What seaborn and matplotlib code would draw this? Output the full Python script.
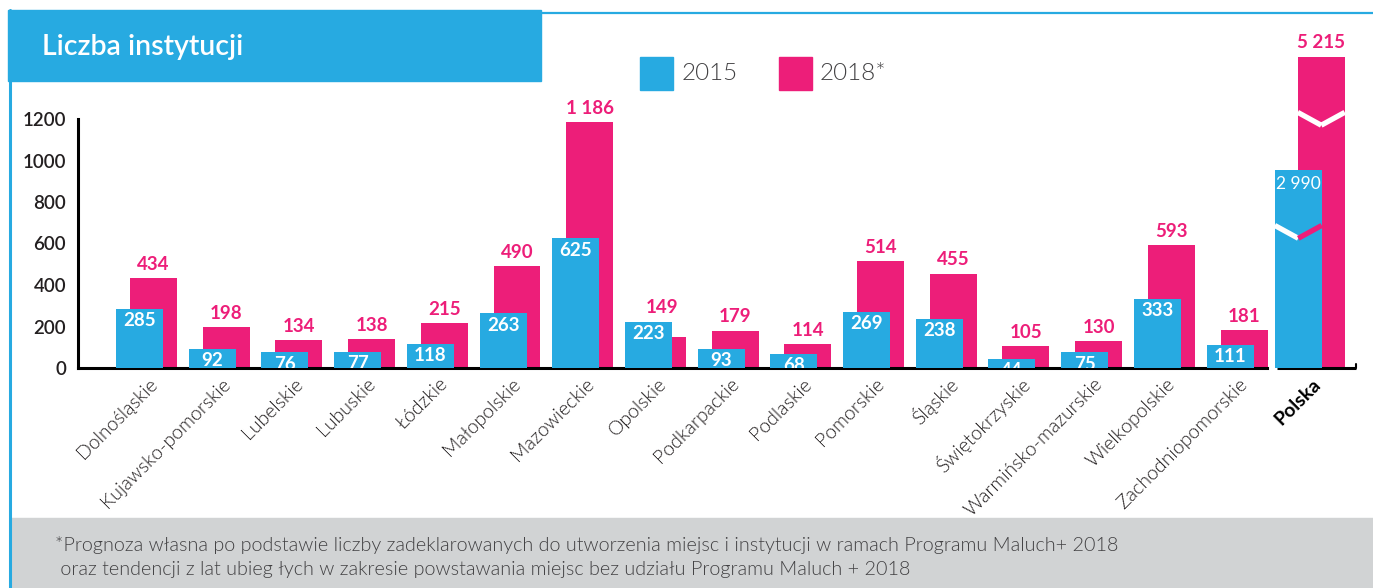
import numpy as np
import pandas as pd
import seaborn as sns
import matplotlib.pyplot as plt
import matplotlib.transforms as mtransforms
from matplotlib.patches import Rectangle
from matplotlib.lines import Line2D

# Data
regions = ['Dolnośląskie', 'Kujawsko-pomorskie', 'Lubelskie', 'Lubuskie', 'Łódzkie',
           'Małopolskie', 'Mazowieckie', 'Opolskie', 'Podkarpackie', 'Podlaskie',
           'Pomorskie', 'Śląskie', 'Świętokrzyskie', 'Warmińsko-mazurskie',
           'Wielkopolskie', 'Zachodniopomorskie', 'Polska']
values_2015 = [285, 92, 76, 77, 118, 263, 625, 223, 93, 68, 269, 238, 44, 75, 333, 111, 2990]
values_2018 = [434, 198, 134, 138, 215, 490, 1186, 149, 179, 114, 514, 455, 105, 130, 593, 181, 5215]

# Polska does not fit the scale, its bars are drawn broken at these heights
polska_drawn_2015 = 955
polska_drawn_2018 = 1500

y_ticks = [0, 200, 400, 600, 800, 1000, 1200]
legend_labels = ['2015', '2018*']
title = 'Liczba instytucji'
footnote = ['*Prognoza własna po podstawie liczby zadeklarowanych do utworzenia miejsc i instytucji w ramach Programu Maluch+ 2018',
            ' oraz tendencji z lat ubieg łych w zakresie powstawania miejsc bez udziału Programu Maluch + 2018']

BLUE = '#27AAE1'
PINK = '#ED1E79'
DARK = '#231F20'
GREY_TXT = '#414042'

sns.set_style('white')
plt.rcParams['font.family'] = ['Lato', 'DejaVu Sans']

W, H = 1373, 588
fig = plt.figure(figsize=(W / 100, H / 100), dpi=100)
fig.patch.set_facecolor('white')

# frame / header / footer
fig.add_artist(Rectangle((8 / W, 1 - 81 / H), 533 / W, 71 / H, transform=fig.transFigure,
                         color=BLUE, zorder=0))
fig.add_artist(Line2D([541 / W, 1], [1 - 12.5 / H] * 2, transform=fig.transFigure,
                      color=BLUE, lw=1.6))
fig.add_artist(Rectangle((11 / W, 0), 1 - 11 / W, 70 / H, transform=fig.transFigure,
                         color='#D1D3D4', zorder=0))
fig.add_artist(Line2D([10 / W] * 2, [0, 1 - 10 / H], transform=fig.transFigure,
                      color=BLUE, lw=2.2))
fig.text(42 / W, 1 - 47 / H, title, color='white', fontsize=20.5, fontweight='semibold', va='center')
fig.text(55 / W, 1 - 545 / H, footnote[0], color=GREY_TXT, fontsize=14.2, fontweight=300, va='center')
fig.text(55 / W, 1 - 570 / H, footnote[1], color=GREY_TXT, fontsize=14.2, fontweight=300, va='center')

# legend
for (lx, tx), lab, col in zip([(640, 682), (779, 820)], legend_labels, [BLUE, PINK]):
    fig.add_artist(Rectangle((lx / W, 1 - 90 / H), 33 / W, 33 / H, transform=fig.transFigure, color=col))
    fig.text(tx / W, 1 - 74 / H, lab, color=GREY_TXT, fontsize=17.5, fontweight=300, va='center')

ax = fig.add_axes([78 / W, 1 - 368 / H, 1278 / W, 332 / H])
ax.set_facecolor('none')

df = pd.DataFrame({'region': regions, 'v2015': values_2015, 'v2018': values_2018})
df['bar2015'] = df['v2015'].where(df['region'] != 'Polska', polska_drawn_2015)
df['bar2018'] = df['v2018'].where(df['region'] != 'Polska', polska_drawn_2018)
n = len(df)
bw = 0.646

sns.barplot(data=df, x='region', y='bar2018', color=PINK, saturation=1, width=bw,
            errorbar=None, ax=ax, zorder=2, linewidth=0)
sns.barplot(data=df, x='region', y='bar2015', color=BLUE, saturation=1, width=bw,
            errorbar=None, ax=ax, zorder=3, linewidth=0)
pink_bars = ax.patches[:n]
blue_bars = ax.patches[n:2 * n]

def fmt(v):
    return f'{v:,}'.replace(',', ' ')

for i, (pb, bb) in enumerate(zip(pink_bars, blue_bars)):
    is_total = regions[i] == 'Polska'
    off = 0.158 if is_total else 0.096
    pb.set_x(pb.get_x() + off)
    bb.set_x(bb.get_x() - off)
    bx = bb.get_x() + bb.get_width() / 2
    px = pb.get_x() + pb.get_width() / 2
    ax.annotate(fmt(values_2015[i]), (bx, bb.get_height()), xytext=(0, -8.5 if not is_total else -10),
                textcoords='offset points', ha='center', va='center', color='white',
                fontsize=12.5 if is_total else 13.5, fontweight='normal' if is_total else 'bold',
                clip_on=True, zorder=5)
    ax.annotate(fmt(values_2018[i]), (px, max(pb.get_height(), bb.get_height())), xytext=(0, 10),
                textcoords='offset points', ha='center', va='center', color=PINK,
                fontsize=13.5, fontweight='bold', zorder=5)

# break marks on the Polska bars
for bar, right_col in [(pink_bars[-1], 'white'), (blue_bars[-1], PINK)]:
    x0 = bar.get_x()
    x1 = x0 + bar.get_width()
    xm = (x0 + x1) / 2
    top = bar.get_height()
    ax.plot([x0, xm], [top - 268, top - 330], color='white', lw=3.8, solid_capstyle='butt', zorder=4)
    ax.plot([xm, x1], [top - 330, top - 268], color=right_col, lw=3.8, solid_capstyle='butt', zorder=4)

ax.set_ylim(0, 1600)
ax.set_xlim(-0.942, 16.636)
ax.set_xlabel('')
ax.set_ylabel('')
ax.set_yticks(y_ticks)
ax.tick_params(axis='y', direction='in', length=21.6, width=2.2, pad=8.6, labelsize=13.5,
               labelcolor=DARK, color='black')
for lab in ax.get_yticklabels():
    lab.set_fontweight('semibold')

ax.set_xticks(range(n))
ax.set_xticklabels(regions, rotation=45, ha='right', va='center', rotation_mode='anchor',
                   fontsize=14, fontweight=300, color=DARK)
ax.tick_params(axis='x', length=0, pad=9.5)
shift = mtransforms.ScaledTranslation(8 / 100, 0, fig.dpi_scale_trans)
for lab in ax.get_xticklabels():
    lab.set_transform(lab.get_transform() + shift)
last = ax.get_xticklabels()[-1]
last.set_fontweight('bold')
last.set_color('black')

sns.despine(ax=ax, top=True, right=True)
for side in ['left', 'bottom']:
    ax.spines[side].set_linewidth(2.2)
    ax.spines[side].set_color('black')
ax.spines['left'].set_bounds(0, 1200)
ax.spines['bottom'].set_bounds(-0.942, n - 1 - 0.59)
ax.plot([n - 1 - 0.45, 16.636], [0, 0], color='black', lw=2.2, clip_on=False, solid_capstyle='butt')
ax.plot([16.636, 16.636], [0, 20], color='black', lw=1.5, clip_on=False)

fig.savefig('out.png', dpi=100)
